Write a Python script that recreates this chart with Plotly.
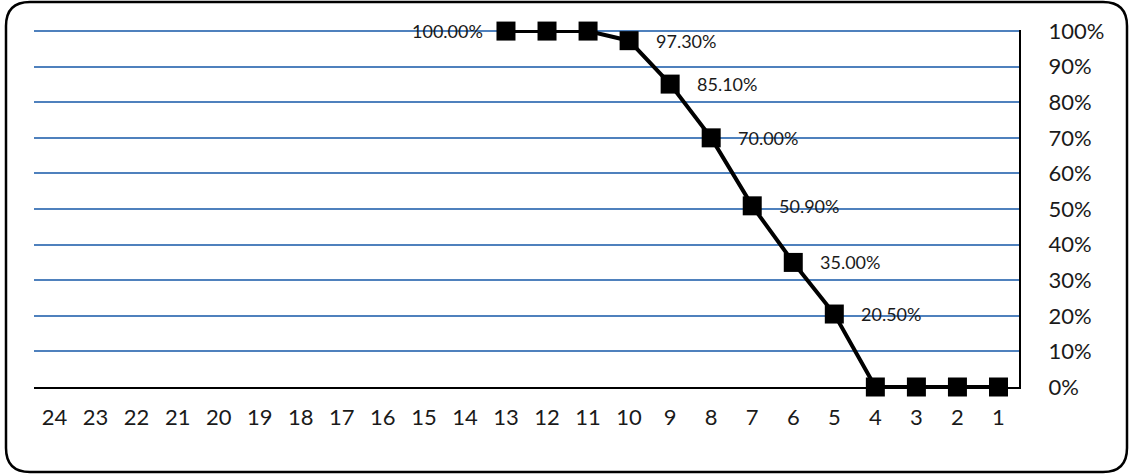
import plotly.graph_objects as go

# Category labels run from 24 down to 1, left to right
categories = [str(n) for n in range(24, 0, -1)]
# Share per category (fraction); None where no value is plotted
values = [None] * 11 + [1.0, 1.0, 1.0, 0.973, 0.851, 0.70, 0.509, 0.35, 0.205, 0.0, 0.0, 0.0, 0.0]
# Categories that carry a value label, and on which side it sits
labeled = {"13": "left", "10": "right", "9": "right", "8": "right",
           "7": "right", "6": "right", "5": "right"}
y_ticks = [i / 10 for i in range(11)]
y_tick_text = [f"{i * 10}%" for i in range(11)]

W, H = 1132, 475
L, R, T, B = 34, 1019, 30, 387  # plot area in pixels
FONT = "Lato, 'Open Sans', sans-serif"
GRID = "#4F81BD"
Y_TOP = 1.003  # a hair above 100% so the top gridline is kept

fig = go.Figure()
fig.add_trace(go.Scatter(
    x=categories, y=values, mode="lines+markers",
    line=dict(color="black", width=4),
    marker=dict(symbol="square", size=19, color="black"),
    cliponaxis=False, connectgaps=False, hoverinfo="skip",
))

# value labels; on a category axis annotations are positioned by category index
for i, (c, v) in enumerate(zip(categories, values)):
    side = labeled.get(c)
    if side is None or v is None:
        continue
    fig.add_annotation(
        x=i, y=v, text=f"{v * 100:.2f}%", showarrow=False,
        xanchor="left" if side == "right" else "right", yanchor="middle",
        xshift=25 if side == "right" else -21,
        font=dict(family=FONT, size=18, color="#1a1a1a"),
    )


def px(xp):
    return (xp - L) / (R - L)


def py(yp):
    return (B - yp) / (B - T)


# rounded outer frame
x0, x1, y0, y1, r = 6, 1127, 2, 472, 24
path = (
    f"M {px(x0 + r)},{py(y0)} L {px(x1 - r)},{py(y0)} "
    f"Q {px(x1)},{py(y0)} {px(x1)},{py(y0 + r)} "
    f"L {px(x1)},{py(y1 - r)} Q {px(x1)},{py(y1)} {px(x1 - r)},{py(y1)} "
    f"L {px(x0 + r)},{py(y1)} Q {px(x0)},{py(y1)} {px(x0)},{py(y1 - r)} "
    f"L {px(x0)},{py(y0 + r)} Q {px(x0)},{py(y0)} {px(x0 + r)},{py(y0)} Z"
)
fig.add_shape(type="path", path=path, xref="paper", yref="paper",
              line=dict(color="black", width=2.5), layer="above")

fig.update_layout(
    width=W, height=H,
    margin=dict(l=L, r=W - R, t=T, b=H - B),
    paper_bgcolor="white", plot_bgcolor="white",
    showlegend=False,
    font=dict(family=FONT, size=22, color="#1a1a1a"),
    xaxis=dict(
        type="category", categoryorder="array", categoryarray=categories,
        range=[-0.5, len(categories) - 0.5],
        showgrid=False, showline=True, linecolor="black", linewidth=2,
        ticks="", ticklabelstandoff=10, tickfont=dict(size=22),
        zeroline=False,
    ),
    yaxis=dict(
        side="right", range=[0, Y_TOP], tickvals=y_ticks, ticktext=y_tick_text,
        showgrid=True, gridcolor=GRID, gridwidth=1.5,
        showline=True, linecolor="black", linewidth=2,
        ticks="", ticklabelstandoff=23, tickfont=dict(size=22),
        zeroline=False,
    ),
)

fig.write_html("out.html")
